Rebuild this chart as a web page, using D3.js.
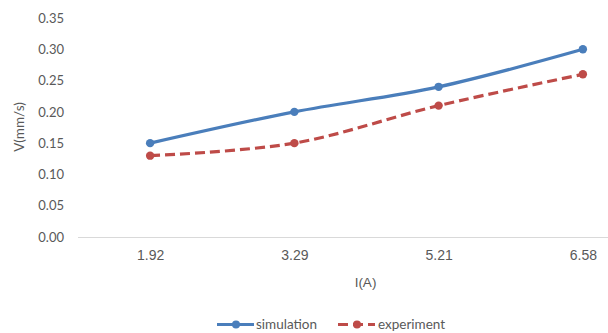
<!DOCTYPE html>
<html>
<head>
<meta charset="utf-8">
<script src="https://cdn.jsdelivr.net/npm/d3@7"></script>
<style>
  html, body { margin: 0; padding: 0; background: #fff; }
  svg { display: block; }
</style>
</head>
<body>
<svg id="chart" width="608" height="333"></svg>
<script>
// Current values (A) along the category axis
const categories = ["1.92", "3.29", "5.21", "6.58"];
// Velocity (mm/s) for each series
const simulation = [0.15, 0.20, 0.24, 0.30];
const experiment = [0.13, 0.15, 0.21, 0.26];
// Value axis tick labels
const yTicks = [0, 0.05, 0.10, 0.15, 0.20, 0.25, 0.30, 0.35];

const series = [
  { name: "simulation", values: simulation, color: "#4A7EBB", dash: null },
  { name: "experiment", values: experiment, color: "#BE4B48", dash: "10,5" }
];

const svg = d3.select("#chart");
const plot = { left: 78, right: 655, top: 18, bottom: 237 };

const x = d3.scalePoint().domain(categories).range([plot.left, plot.right]).padding(0.5);
const y = d3.scaleLinear().domain([0, 0.35]).range([plot.bottom, plot.top]);

// Category axis: baseline plus labels
const xAxis = svg.append("g")
  .attr("transform", `translate(0,${plot.bottom})`)
  .call(d3.axisBottom(x).tickSize(0).tickPadding(13));
xAxis.select(".domain").attr("stroke", "#d9d9d9").attr("stroke-width", 1)
  .attr("d", `M${plot.left},0.5H${plot.right}`);
xAxis.selectAll("text")
  .attr("fill", "#595959")
  .style("font-family", "'Liberation Sans', Arial, sans-serif")
  .style("font-size", "14px");

// Value axis: labels only
const yAxis = svg.append("g")
  .attr("transform", `translate(64,0)`)
  .call(d3.axisLeft(y).tickValues(yTicks).tickFormat(d3.format(".2f")).tickSize(0).tickPadding(0));
yAxis.select(".domain").remove();
yAxis.selectAll("text")
  .attr("fill", "#595959")
  .style("font-family", "Lato, 'Open Sans', sans-serif")
  .style("font-size", "13px");

// Axis titles
svg.append("text")
  .attr("x", (plot.left + plot.right) / 2 - 1)
  .attr("y", 287)
  .attr("text-anchor", "middle")
  .attr("fill", "#595959")
  .style("font-family", "'Liberation Sans', Arial, sans-serif")
  .style("font-size", "13.5px")
  .text("I(A)");

svg.append("text")
  .attr("transform", "translate(24,127) rotate(-90)")
  .attr("text-anchor", "middle")
  .attr("fill", "#595959")
  .style("font-family", "Lato, 'Open Sans', sans-serif")
  .style("font-size", "13.5px")
  .text("V(mm/s)");

// Smoothed series lines with circular markers
const line = d3.line()
  .x((d, i) => x(categories[i]))
  .y(d => y(d))
  .curve(d3.curveCardinal.tension(0));

series.forEach(s => {
  const g = svg.append("g");
  g.append("path")
    .datum(s.values)
    .attr("d", line)
    .attr("fill", "none")
    .attr("stroke", s.color)
    .attr("stroke-width", 3.2)
    .attr("stroke-dasharray", s.dash);
  g.selectAll("circle")
    .data(s.values)
    .join("circle")
    .attr("cx", (d, i) => x(categories[i]))
    .attr("cy", d => y(d))
    .attr("r", 4.2)
    .attr("fill", s.color);
});

// Legend
const legend = [
  { s: series[0], x0: 217, tx: 256 },
  { s: series[1], x0: 338, tx: 378 }
];
legend.forEach(l => {
  const g = svg.append("g");
  g.append("line")
    .attr("x1", l.x0).attr("x2", l.x0 + 37)
    .attr("y1", 324.5).attr("y2", 324.5)
    .attr("stroke", l.s.color)
    .attr("stroke-width", 3.2)
    .attr("stroke-dasharray", l.s.dash);
  g.append("circle")
    .attr("cx", l.x0 + 19).attr("cy", 324.5).attr("r", 4)
    .attr("fill", l.s.color);
  g.append("text")
    .attr("x", l.tx).attr("y", 329)
    .attr("fill", "#595959")
    .style("font-family", "Lato, 'Open Sans', sans-serif")
    .style("font-size", "13.5px")
    .text(l.s.name);
});
</script>
</body>
</html>
